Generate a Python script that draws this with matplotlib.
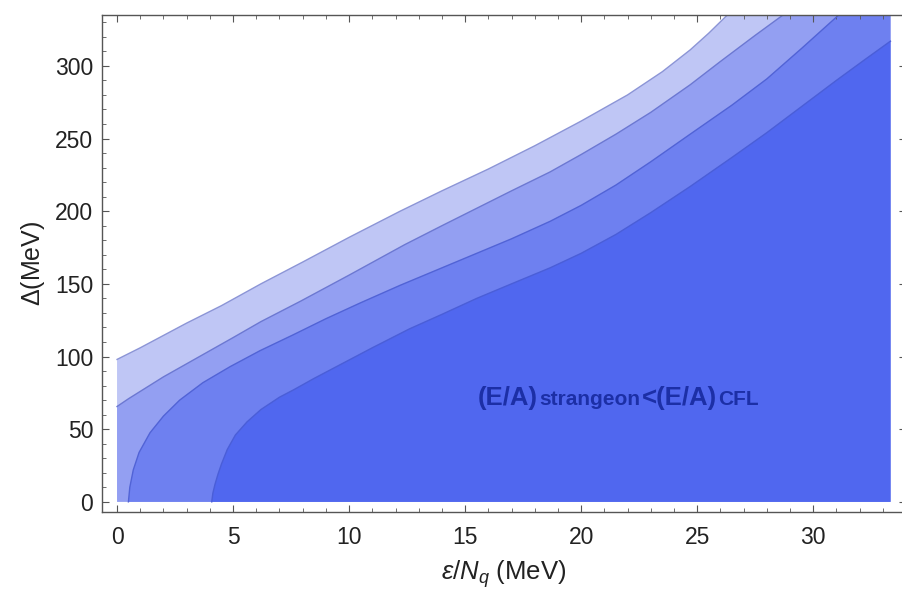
import matplotlib
matplotlib.use('Agg')
import matplotlib.pyplot as plt
from matplotlib.ticker import MultipleLocator
from matplotlib.offsetbox import TextArea, HPacker, AnnotationBbox

plt.rcParams['font.family'] = ['Liberation Sans', 'DejaVu Sans']
plt.rcParams['mathtext.fontset'] = 'custom'
plt.rcParams['mathtext.rm'] = 'Liberation Sans'
plt.rcParams['mathtext.it'] = 'Liberation Sans:italic'
plt.rcParams['mathtext.bf'] = 'Liberation Sans:bold'

# boundary curves eps/N_q (MeV) -> Delta (MeV), outermost first
x_top = [0, 1, 2, 3, 4.5, 6.2, 8, 10, 12.2, 14, 16, 18, 20, 22, 23.5,
         24.7, 25.5, 26.3, 27.2]
y_top = [98, 106, 114.5, 123, 135, 150, 165, 182, 200, 214, 229, 245, 262,
         280, 296, 311, 322.5, 335, 351]

x_second = [0, 0.5, 1.1, 2, 3, 4, 5, 6.2, 7.9, 10, 12.4, 14, 15.5, 17, 18.66,
            20, 21.5, 23, 24.7, 26, 27.5, 28.7, 29.5]
y_second = [65.6, 71, 77, 86, 95, 104, 113, 124, 138, 156, 177, 190, 202,
            214, 227, 239, 253, 268, 287, 303, 321, 335, 346]

x_third = [0.49, 0.55, 0.7, 0.95, 1.42, 2.0, 2.7, 3.7, 4.87, 6.16, 7.6, 9,
           10.5, 12.2, 14, 15.5, 17, 18.66, 20, 21.5, 23, 24.7, 26.5, 28,
           29.5, 31.1, 32]
y_third = [0, 10, 22, 34, 47.5, 59, 70, 82, 93, 104, 115, 126,
           137, 149, 161, 171, 181, 193, 204, 218, 234, 253, 273, 291,
           312, 335, 347]

x_inner = [4.08, 4.13, 4.22, 4.35, 4.5, 4.75, 5.1, 5.6, 6.2, 7.0, 7.6, 8.5,
           9.75, 11, 12.6, 14, 15.5, 17, 18.66, 20, 21.5, 23, 24.7, 26.5,
           28, 29.5, 31, 32.2, 33.33]
y_inner = [0, 6, 12, 19, 26, 36, 46, 55, 63.5, 72, 77, 85,
           95.5, 106, 119, 129, 140, 150, 161, 171, 184, 199, 217, 237,
           254, 272, 290, 304, 317]

x_max = 33.33
y_cap = 360

fills = ['#bfc6f5', '#939ff2', '#6e80f0', '#5067ef']
edges = ['#8c95d6', '#6c78d2', '#5163d6', '#4a5ed8']

fig = plt.figure(figsize=(9.02, 5.89), dpi=100)
ax = fig.add_axes([101.5 / 902, 1 - 512 / 589, (906 - 101.5) / 902, (512 - 15) / 589])

curves = [(x_top, y_top), (x_second, y_second), (x_third, y_third), (x_inner, y_inner)]
for (xs, ys), fc, ec in zip(curves, fills, edges):
    # each region lies below / right of its boundary
    if xs[0] == 0:
        px = [0] + list(xs) + [x_max, x_max]
    else:
        px = [xs[0]] + list(xs) + [x_max, x_max]
    py = [0] + list(ys) + [y_cap, 0]
    ax.fill(px, py, color=fc, lw=0)
    ax.plot(xs, ys, color=ec, lw=1.0, solid_joinstyle='round')

# region label, subscripts sit on the baseline in smaller type
txt_color = '#1c2fa6'
big = dict(color=txt_color, fontsize=18.5, fontweight='bold')
small = dict(color=txt_color, fontsize=15, fontweight='bold')
parts = [TextArea('(E/A)', textprops=big),
         TextArea('strangeon', textprops=small),
         TextArea('<(E/A)', textprops=big),
         TextArea('CFL', textprops=small)]
box = HPacker(children=parts, align='baseline', pad=0, sep=1)
ab = AnnotationBbox(box, (15.56, 71.6), xycoords='data', box_alignment=(0, 0.5),
                    frameon=False, pad=0)
ax.add_artist(ab)

ax.set_xlim(-0.67, 34.0)
ax.set_ylim(-7, 335)

ax.xaxis.set_major_locator(MultipleLocator(5))
ax.xaxis.set_minor_locator(MultipleLocator(1))
ax.yaxis.set_major_locator(MultipleLocator(50))
ax.yaxis.set_minor_locator(MultipleLocator(10))
ax.tick_params(which='both', direction='in', top=True, right=True,
               color='#555555', labelcolor='#222222')
ax.tick_params(which='major', length=5, width=0.8, labelsize=16.5)
ax.tick_params(which='minor', length=3, width=0.6)
ax.tick_params(axis='x', pad=10)
ax.tick_params(axis='y', pad=6)
for s in ax.spines.values():
    s.set_color('#555555')
    s.set_linewidth(1.0)

ax.set_xlabel(r'$\epsilon/N_q$ (MeV)', fontsize=18.5, color='#222222', labelpad=7)
ax.set_ylabel(r'$\Delta$(MeV)', fontsize=18, color='#222222', labelpad=6)

fig.savefig('out.png', dpi=100)
